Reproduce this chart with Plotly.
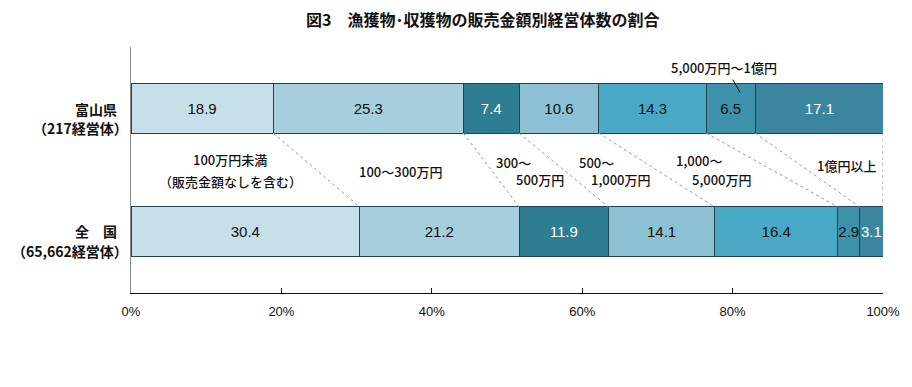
import plotly.graph_objects as go

categories = ["100万円未満", "100～300万円", "300～500万円", "500～1,000万円",
              "1,000～5,000万円", "5,000万円～1億円", "1億円以上"]
toyama = [18.9, 25.3, 7.4, 10.6, 14.3, 6.5, 17.1]
zenkoku = [30.4, 21.2, 11.9, 14.1, 16.4, 2.9, 3.1]
row_names = ["富山県", "全　国"]
row_counts = ["（217経営体）", "（65,662経営体）"]
colors = ["#c6dfe9", "#a7cedd", "#2f7d90", "#8bc1d3", "#49a9c5", "#3e91ab", "#3b869e"]
text_colors = ["#111", "#111", "white", "#111", "#111", "#111", "white"]
tick_vals = [0, 20, 40, 60, 80, 100]
tick_text = ["0%", "20%", "40%", "60%", "80%", "100%"]

Y_T, Y_Z, BW = 0.75, 0.25, 0.2
FONT = "Noto Sans CJK JP, sans-serif"
NARROW = "Liberation Sans Narrow, Arial Narrow, Liberation Sans, sans-serif"

fig = go.Figure()
for i, cat in enumerate(categories):
    fig.add_trace(go.Bar(
        x=[toyama[i], zenkoku[i]], y=[Y_T, Y_Z], orientation="h", width=BW,
        name=cat, marker=dict(color=colors[i], line=dict(color="#24434e", width=1)),
        text=[f"{toyama[i]:.1f}", f"{zenkoku[i]:.1f}"], textposition="inside",
        insidetextanchor="middle", textangle=0, constraintext="none",
        textfont=dict(family=NARROW, size=15, color=text_colors[i]),
        hoverinfo="skip", showlegend=False))

# connector lines between cumulative boundaries
ct, cz = 0, 0
for i in range(len(categories)):
    ct += toyama[i]
    cz += zenkoku[i]
    fig.add_trace(go.Scatter(
        x=[min(ct, 100), min(cz, 100)], y=[Y_T - BW / 2, Y_Z + BW / 2], mode="lines",
        line=dict(color="#9a9a9a", width=1, dash="dot"), hoverinfo="skip", showlegend=False))

lf = dict(family=FONT, size=13, color="#111", weight=500)
rf = dict(family=FONT, size=14, color="#111", weight=700)
annos = []
# row labels
for name, cnt, yn, yc in [(row_names[0], row_counts[0], 0.750, 0.670),
                          (row_names[1], row_counts[1], 0.253, 0.172)]:
    annos.append(dict(x=0, y=yn, xref="paper", yref="y", text=name, xanchor="right",
                      xshift=-12, showarrow=False, font=rf))
    annos.append(dict(x=0, y=yc, xref="paper", yref="y", text=cnt, xanchor="right",
                      xshift=-1, showarrow=False, font=rf))

lab = [
    ("100万円未満", 13.2, 0.541),
    ("（販売金額なしを含む）", 13.2, 0.455),
    ("100～300万円", 35.8, 0.495),
    ("300～", 50.8, 0.53),
    ("500万円", 54.4, 0.46),
    ("500～", 61.9, 0.53),
    ("1,000万円", 65.2, 0.46),
    ("1,000～", 75.6, 0.537),
    ("5,000万円", 78.6, 0.46),
    ("1億円以上", 95.2, 0.52),
]
for t, x, y in lab:
    annos.append(dict(x=x, y=y, xref="x", yref="y", text=t, showarrow=False, align="center", font=lf))

annos.append(dict(x=78.9, y=0.915, xref="x", yref="paper", text="5,000万円～1億円", showarrow=False,
                  font=lf, yanchor="middle"))
annos.append(dict(x=81.0, y=0.815, xref="x", yref="y", ax=79.9, ay=0.874, axref="x", ayref="y",
                  text="", showarrow=True, arrowhead=0, arrowwidth=1, arrowcolor="#111"))

annos.append(dict(x=0.468, y=1, xref="paper", yref="paper", yshift=28,
                  text="<b>図3　漁獲物･収獲物の販売金額別経営体数の割合</b>",
                  showarrow=False, font=dict(family=FONT, size=16, color="#111"), yanchor="middle"))

fig.update_layout(
    barmode="stack", width=912, height=387,
    margin=dict(l=123, r=37, t=39, b=102),
    paper_bgcolor="white", plot_bgcolor="white",
    annotations=annos,
    xaxis=dict(range=[0, 100], tickvals=tick_vals, ticktext=tick_text, ticks="inside", ticklen=5,
               tickcolor="#111", showline=True, linecolor="#111", linewidth=1, showgrid=False,
               zeroline=False, fixedrange=True, ticklabelstandoff=6,
               tickfont=dict(family=NARROW, size=13, color="#111")),
    yaxis=dict(range=[0, 1], showticklabels=False, ticks="", showline=True, linecolor="#888",
               linewidth=1, showgrid=False, zeroline=False, fixedrange=True),
)
fig.write_html("out.html")
